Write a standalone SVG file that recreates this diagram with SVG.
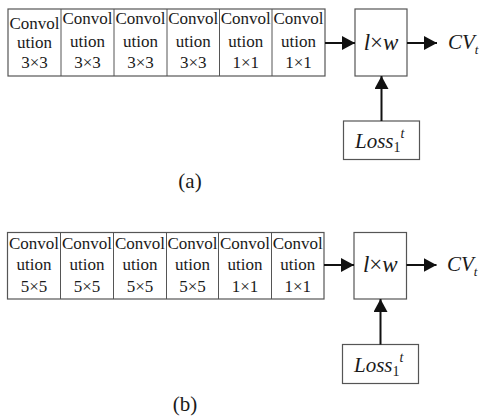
<svg xmlns="http://www.w3.org/2000/svg" width="480" height="419" viewBox="0 0 480 419">
<defs>
<style>
.box{fill:#fff;stroke:#555;stroke-width:1.2}
.t{font-family:'Liberation Serif','Times New Roman',serif;font-size:17px;fill:#1a1a1a;text-anchor:middle}
.m{font-family:'Liberation Serif','Times New Roman',serif;font-size:21px;fill:#1a1a1a}
.big{font-size:23px}
.i{font-style:italic}
.ln{stroke:#111;stroke-width:2;fill:none}
</style>
<marker id="ah" markerWidth="14" markerHeight="14" refX="13" refY="7" orient="auto" markerUnits="userSpaceOnUse">
<path d="M0,0 L13,7 L0,14 Z" fill="#111"/>
</marker>
</defs>
<rect width="480" height="419" fill="#fff"/>

<g id="conv-a">
<rect class="box" x="8" y="9" width="317" height="67"/>
<line x1="61" y1="9" x2="61" y2="76" stroke="#555"/>
<line x1="114" y1="9" x2="114" y2="76" stroke="#555"/>
<line x1="167" y1="9" x2="167" y2="76" stroke="#555"/>
<line x1="219.5" y1="9" x2="219.5" y2="76" stroke="#555"/>
<line x1="272" y1="9" x2="272" y2="76" stroke="#555"/>
<text class="t" x="34.5" y="29">Convol</text><text class="t" x="34.5" y="48">ution</text><text class="t" x="34.5" y="67.5">3×3</text>
<text class="t" x="87.5" y="24">Convol</text><text class="t" x="87.5" y="46.5">ution</text><text class="t" x="87.5" y="68">3×3</text>
<text class="t" x="140.5" y="24">Convol</text><text class="t" x="140.5" y="46.5">ution</text><text class="t" x="140.5" y="68">3×3</text>
<text class="t" x="193.2" y="24">Convol</text><text class="t" x="193.2" y="46.5">ution</text><text class="t" x="193.2" y="68">3×3</text>
<text class="t" x="245.7" y="24">Convol</text><text class="t" x="245.7" y="46.5">ution</text><text class="t" x="245.7" y="68">1×1</text>
<text class="t" x="298.5" y="24">Convol</text><text class="t" x="298.5" y="46.5">ution</text><text class="t" x="298.5" y="68">1×1</text>
</g>
<g id="lw-a">
<rect class="box" x="355" y="9" width="52" height="67"/>
<text class="m big" x="381" y="50" text-anchor="middle"><tspan class="i">l</tspan>×<tspan class="i">w</tspan></text>
</g>
<g id="cv-a">
<text class="m i" x="448" y="49">CV<tspan font-size="13" dy="5">t</tspan></text>
</g>
<g id="loss-a">
<rect class="box" x="343.5" y="121" width="76" height="38.5"/>
<text class="m" x="355" y="148"><tspan class="i">Loss</tspan><tspan font-size="14" dy="4">1</tspan><tspan class="i" font-size="14" dy="-14">t</tspan></text>
</g>
<g id="label-a"><text class="m" x="190" y="188" text-anchor="middle">(a)</text></g>

<g id="conv-b">
<rect class="box" x="7.5" y="232.5" width="316.5" height="66.5"/>
<line x1="60.5" y1="232.5" x2="60.5" y2="299" stroke="#555"/>
<line x1="113.5" y1="232.5" x2="113.5" y2="299" stroke="#555"/>
<line x1="166.5" y1="232.5" x2="166.5" y2="299" stroke="#555"/>
<line x1="218.5" y1="232.5" x2="218.5" y2="299" stroke="#555"/>
<line x1="271.5" y1="232.5" x2="271.5" y2="299" stroke="#555"/>
<text class="t" x="34" y="248.5">Convol</text><text class="t" x="34" y="269.5">ution</text><text class="t" x="34" y="291.5">5×5</text>
<text class="t" x="87" y="248.5">Convol</text><text class="t" x="87" y="269.5">ution</text><text class="t" x="87" y="291.5">5×5</text>
<text class="t" x="140" y="248.5">Convol</text><text class="t" x="140" y="269.5">ution</text><text class="t" x="140" y="291.5">5×5</text>
<text class="t" x="192.5" y="248.5">Convol</text><text class="t" x="192.5" y="269.5">ution</text><text class="t" x="192.5" y="291.5">5×5</text>
<text class="t" x="245" y="248.5">Convol</text><text class="t" x="245" y="269.5">ution</text><text class="t" x="245" y="291.5">1×1</text>
<text class="t" x="297.8" y="248.5">Convol</text><text class="t" x="297.8" y="269.5">ution</text><text class="t" x="297.8" y="291.5">1×1</text>
</g>
<g id="lw-b">
<rect class="box" x="354" y="232.5" width="52.5" height="66.5"/>
<text class="m big" x="380.3" y="272" text-anchor="middle"><tspan class="i">l</tspan>×<tspan class="i">w</tspan></text>
</g>
<g id="cv-b">
<text class="m i" x="447" y="271">CV<tspan font-size="13" dy="5">t</tspan></text>
</g>
<g id="loss-b">
<rect class="box" x="342.5" y="344.5" width="76" height="39"/>
<text class="m" x="354" y="372"><tspan class="i">Loss</tspan><tspan font-size="14" dy="4">1</tspan><tspan class="i" font-size="14" dy="-14">t</tspan></text>
</g>
<g id="label-b"><text class="m" x="185" y="411" text-anchor="middle">(b)</text></g>

<g id="connectors">
<line class="ln" x1="325" y1="43" x2="355" y2="43" marker-end="url(#ah)"/>
<line class="ln" x1="407" y1="43" x2="437" y2="43" marker-end="url(#ah)"/>
<line class="ln" x1="381.5" y1="121" x2="381.5" y2="76" marker-end="url(#ah)"/>
<line class="ln" x1="324" y1="265" x2="354" y2="265" marker-end="url(#ah)"/>
<line class="ln" x1="406.5" y1="265" x2="436.5" y2="265" marker-end="url(#ah)"/>
<line class="ln" x1="380.5" y1="344.5" x2="380.5" y2="299" marker-end="url(#ah)"/>
</g>
</svg>
